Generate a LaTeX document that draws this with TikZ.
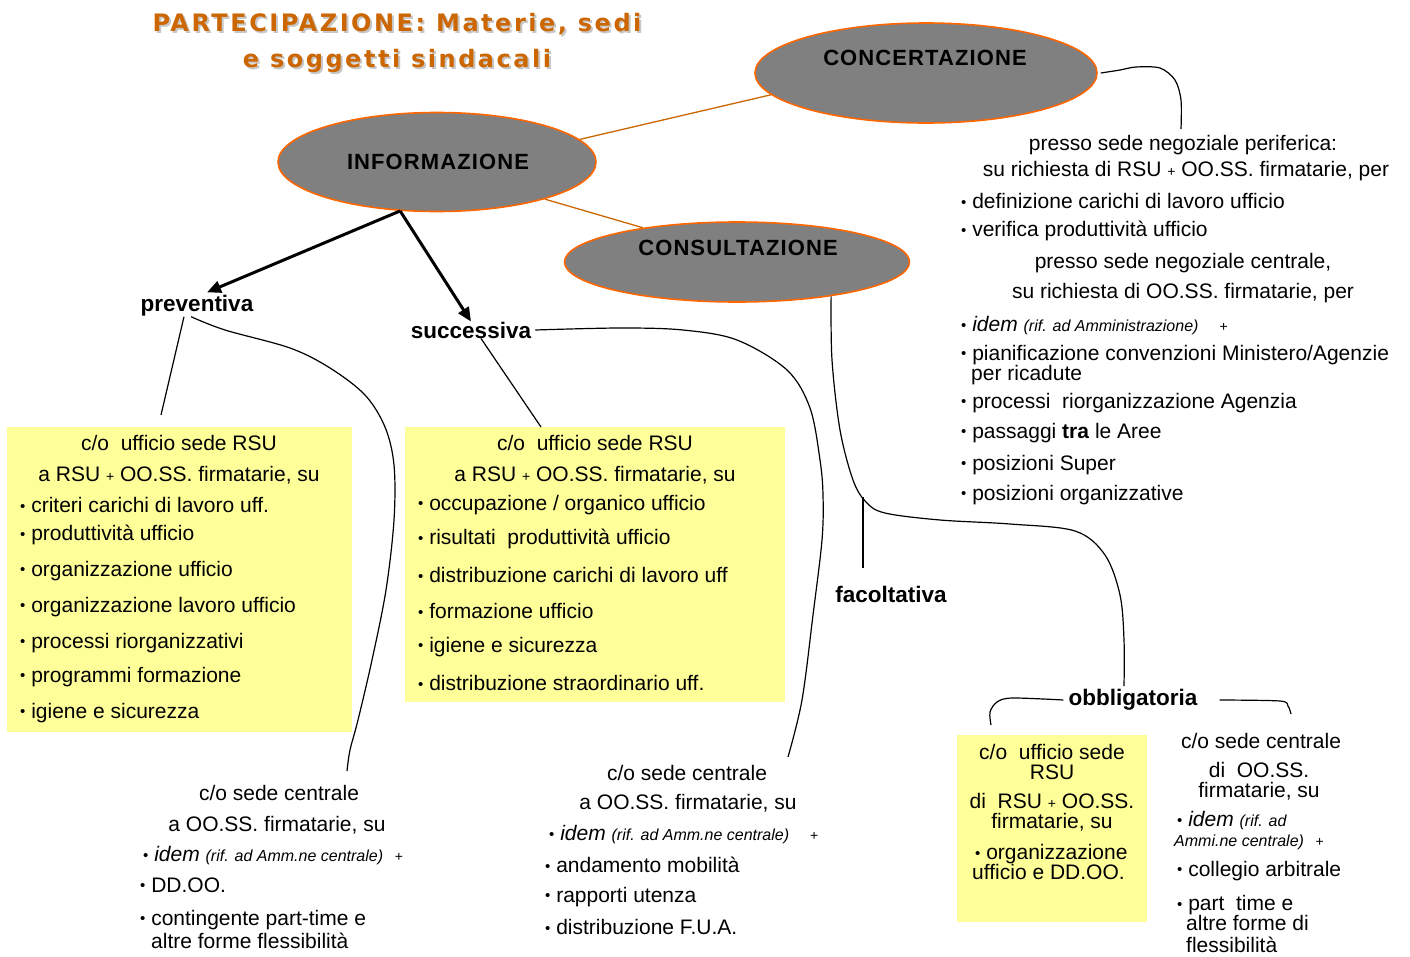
\documentclass[tikz,border=0pt]{standalone}
\usepackage{fontspec}
\setmainfont{Liberation Sans}
\newfontfamily\titlefont[LetterSpace=10.5]{DejaVu Sans}
\newfontfamily\ellfont[LetterSpace=5]{Liberation Sans}
\usetikzlibrary{shapes.geometric,arrows.meta}
\definecolor{titleorange}{HTML}{CC6600}
\definecolor{ellorange}{HTML}{FF6600}
\definecolor{linkorange}{HTML}{CC6600}
\definecolor{ellgray}{HTML}{808080}
\definecolor{notey}{HTML}{FFFF99}
\newcommand\smallplus{{\fontsize{14}{14}\selectfont+}}
\newcommand\bul{{\fontsize{15}{15}\selectfont\raisebox{1.5pt}{\textbullet}}\ }
\newcommand\smallit{\fontsize{16}{16}\selectfont\itshape}
\begin{document}
\begin{tikzpicture}[x=1pt,y=-1pt,
  body/.style={font=\fontsize{21}{20}\selectfont, inner sep=0pt},
  lft/.style={body, anchor=west, align=left},
  ctr/.style={body, anchor=center, align=center},
  lbl/.style={font=\fontsize{22.5}{26}\selectfont\bfseries, inner sep=0pt},
  bubble/.style={ellipse, draw=ellorange, fill=ellgray, line width=1.6pt, inner sep=0pt},
  elltext/.style={font=\ellfont\bfseries\fontsize{22}{26}\selectfont, inner sep=0pt},
  note/.style={fill=notey, draw=none, inner sep=0pt, anchor=north west},
  wire/.style={line width=1.2pt, black, line join=round},
  tie/.style={draw=linkorange, line width=1.3pt},
  bigarrow/.style={-{Triangle[length=14pt,width=12pt]}, line width=3pt},
  ttl/.style={font=\titlefont\bfseries\fontsize{24}{28}\selectfont, inner sep=0pt}
]
\useasboundingbox (0,0) rectangle (1410,956);

% title with soft shadow
\node[ttl, text=black!22] (tshadow1) at (399,26) {PARTECIPAZIONE: Materie, sedi};
\node[ttl, text=black!22] (tshadow2) at (399,63) {e soggetti sindacali};
\node[ttl, text=titleorange] (title1) at (397,24) {PARTECIPAZIONE: Materie, sedi};
\node[ttl, text=titleorange] (title2) at (397,61) {e soggetti sindacali};

% the three forms of participation
\node[bubble, minimum width=342, minimum height=100] (concert) at (926,73) {};
\node[elltext] (concertT) at (925,58) {CONCERTAZIONE};
\node[bubble, minimum width=318, minimum height=99] (inform) at (437,162) {};
\node[elltext] (informT) at (438,162) {INFORMAZIONE};
\node[bubble, minimum width=345, minimum height=80] (consult) at (737,262) {};
\node[elltext] (consultT) at (738,248) {CONSULTAZIONE};

\draw[tie] (inform.9) -- (concert.188);
\draw[tie] (inform.-19) -- (consult.160);

% yellow notes
\node[note, minimum width=345, minimum height=305] (box1) at (7,427) {};
\node[note, minimum width=380, minimum height=275] (box2) at (405,427) {};
\node[note, minimum width=190, minimum height=187] (box3) at (957,735) {};

% branch labels
\node[lbl] (prev) at (197,306) {preventiva};
\node[lbl] (succ) at (471,330) {successiva};
\node[lbl] (facol) at (891,594) {facoltativa};
\node[lbl] (obbl) at (1133,700) {obbligatoria};

\draw[bigarrow] (inform.233) -- ([xshift=10pt,yshift=3pt]prev.north);
\draw[bigarrow] (inform.233) -- (succ.north);

% free ends of the hand-drawn connectors
\coordinate (pvEnd) at (161,415);
\coordinate (pcEnd) at (347,771);
\coordinate (svEnd) at (541,427);
\coordinate (scEnd) at (788,757);
\coordinate (cbEnd) at (1124,686);
\coordinate (faTop) at (863,497);
\coordinate (faBot) at (863,568);
\coordinate (ccEnd) at (1181,129);
\coordinate (obL) at (991,725);
\coordinate (obR) at (1291,714);

\draw[wire] ([xshift=-13pt]prev.south) -- (pvEnd);
\draw[wire] plot[smooth, tension=0.55] coordinates {([xshift=-6pt]prev.south) (225,330) (290,348) (330,368) (365,395) (385,427) (394,465) (394,520) (386,590) (372,660) (358,720) (350,750) (pcEnd)};
\draw[wire] ([xshift=10pt]succ.south) -- (svEnd);
\draw[wire] plot[smooth, tension=0.55] coordinates {([xshift=4pt]succ.east) (620,328) (683,330) (737,340) (787,370) (810,408) (820,460) (823,495) (822,540) (813,615) (802,700) (scEnd)};
\draw[wire] plot[smooth, tension=0.55] coordinates {(consult.-20) (832,360) (840,430) (853,480) (866,502) (885,513) (940,520) (1010,524) (1075,531) (1105,555) (1120,595) (1124,640) (cbEnd)};
\draw[wire] (faTop) -- (faBot);
\draw[wire] plot[smooth, tension=0.5] coordinates {([xshift=3pt]concert.east) (1120,70) (1136,67) (1160,68) (1175,80) (1181,100) (ccEnd)};
\draw[wire] plot[smooth, tension=0.5] coordinates {([xshift=-5pt]obbl.west) (1012,698) (997,702) (990,712) (obL)};
\draw[wire] plot[smooth, tension=0.5] coordinates {([xshift=22pt]obbl.east) (1280,701) (1288,706) (obR)};

% concertazione: topics
\node[ctr] (rp1) at (1183,145) {presso sede negoziale periferica:};
\node[ctr] (rp2) at (1186,171) {su richiesta di RSU \smallplus\ OO.SS. firmatarie, per};
\node[lft] (rp3) at (961,201) {\bul definizione carichi di lavoro ufficio};
\node[lft] (rp4) at (961,231) {\bul verifica produttività ufficio};
\node[ctr] (rp5) at (1183,263) {presso sede negoziale centrale,};
\node[ctr] (rp6) at (1183,293) {su richiesta di OO.SS. firmatarie, per};
\node[lft] (rp7) at (961,326) {\bul \textit{idem} {\smallit(rif. ad Amministrazione)}\quad\smallplus};
\node[lft] (rp8) at (961,365) {\bul pianificazione convenzioni Ministero/Agenzie\\\hspace*{10pt}per ricadute};
\node[lft] (rp10) at (961,403) {\bul processi\ \ riorganizzazione Agenzia};
\node[lft] (rp11) at (961,433) {\bul passaggi \textbf{tra} le Aree};
\node[lft] (rp12) at (961,465) {\bul posizioni Super};
\node[lft] (rp13) at (961,495) {\bul posizioni organizzative};

% informazione preventiva, local office
\node[ctr] (a1) at (179,443) {c/o\ \ ufficio sede RSU};
\node[ctr] (a2) at (179,475) {a RSU \smallplus\ OO.SS. firmatarie, su};
\node[lft] (a3) at (20,505) {\bul criteri carichi di lavoro uff.};
\node[lft] (a4) at (20,535) {\bul produttività ufficio};
\node[lft] (a5) at (20,571) {\bul organizzazione ufficio};
\node[lft] (a6) at (20,607) {\bul organizzazione lavoro ufficio};
\node[lft] (a7) at (20,643) {\bul processi riorganizzativi};
\node[lft] (a8) at (20,677) {\bul programmi formazione};
\node[lft] (a9) at (20,713) {\bul igiene e sicurezza};

% informazione successiva, local office
\node[ctr] (b1) at (595,443) {c/o\ \ ufficio sede RSU};
\node[ctr] (b2) at (595,475) {a RSU \smallplus\ OO.SS. firmatarie, su};
\node[lft] (b3) at (418,505) {\bul occupazione / organico ufficio};
\node[lft] (b4) at (418,539) {\bul risultati\ \ produttività ufficio};
\node[lft] (b5) at (418,575) {\bul distribuzione carichi di lavoro uff};
\node[lft] (b6) at (418,611) {\bul formazione ufficio};
\node[lft] (b7) at (418,647) {\bul igiene e sicurezza};
\node[lft] (b8) at (418,683) {\bul distribuzione straordinario uff.};

% informazione preventiva, head office
\node[ctr] (c1) at (279,793) {c/o sede centrale};
\node[ctr] (c2) at (277,825) {a OO.SS. firmatarie, su};
\node[lft] (c3) at (143,856) {\bul\textit{idem} {\smallit(rif. ad Amm.ne centrale)}\ \ \smallplus};
\node[lft] (c4) at (140,885) {\bul DD.OO.};
\node[lft] (c5) at (140,929) {\bul contingente part-time e\\[3pt]\hspace*{11pt}altre forme flessibilità};

% informazione successiva, head office
\node[ctr] (d1) at (687,773) {c/o sede centrale};
\node[ctr] (d2) at (688,803) {a OO.SS. firmatarie, su};
\node[lft] (d3) at (549,835) {\bul\textit{idem} {\smallit(rif. ad Amm.ne centrale)}\quad\smallplus};
\node[lft] (d4) at (545,865) {\bul andamento mobilità};
\node[lft] (d5) at (545,897) {\bul rapporti utenza};
\node[lft] (d6) at (545,927) {\bul distribuzione F.U.A.};

% consultazione obbligatoria, local office
\node[ctr] (e1) at (1052,762) {c/o\ \ ufficio sede\\RSU};
\node[ctr] (e3) at (1052,812) {di\ \ RSU \smallplus\ OO.SS.\\firmatarie, su};
\node[lft] (e5) at (972,862) {\hspace*{3pt}\bul organizzazione\\ufficio e DD.OO.};

% consultazione obbligatoria, head office
\node[ctr] (f1) at (1261,741) {c/o sede centrale};
\node[ctr] (f2) at (1259,781) {di\ \ OO.SS.\\firmatarie, su};
\node[lft] (f4) at (1174,831) {\hspace*{3pt}\bul\textit{idem} {\smallit(rif. ad}\\{\smallit Ammi.ne centrale)}\ \ \smallplus};
\node[lft] (f6) at (1174,871) {\hspace*{3pt}\bul collegio arbitrale};
\node[lft] (f7) at (1174,924) {\hspace*{3pt}\bul part\ \ time e\\\hspace*{12pt}altre forme di\\[2pt]\hspace*{12pt}flessibilità};
\end{tikzpicture}
\end{document}
